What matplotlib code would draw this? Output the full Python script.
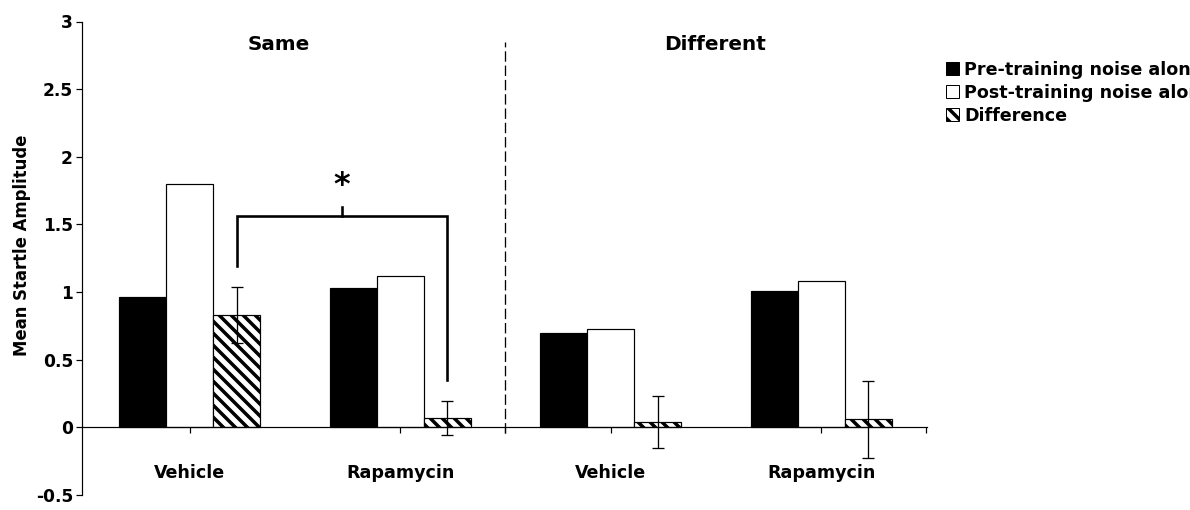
import numpy as np
import matplotlib.pyplot as plt
from matplotlib.patches import Patch

# Startle amplitude, pre vs post training, by context and drug
groups = ["Vehicle", "Rapamycin", "Vehicle", "Rapamycin"]
panels = ["Same", "Different"]
pre = [0.96, 1.03, 0.70, 1.01]
post = [1.80, 1.12, 0.73, 1.08]
diff = [0.83, 0.07, 0.04, 0.06]
diff_err = [0.21, 0.125, 0.19, 0.285]
labels = ["Pre-training noise alone", "Post-training noise alone", "Difference"]

plt.rcParams["font.family"] = "DejaVu Sans"
plt.rcParams["font.weight"] = "bold"
plt.rcParams["hatch.linewidth"] = 3.5

DPI = 72
fig = plt.figure(figsize=(1190 / DPI, 510 / DPI), dpi=DPI)
ax = fig.add_axes([82 / 1190, 15 / 510, 845 / 1190, 473.5 / 510])

x = np.arange(len(groups))
w = 0.223
ax.bar(x - w, pre, w, color="black", edgecolor="black", linewidth=1.2)
ax.bar(x, post, w, color="white", edgecolor="black", linewidth=1.2)
ax.bar(x + w, diff, w, color="white", edgecolor="black", linewidth=1.2,
       hatch="\\\\")
ax.errorbar(x + w, diff, yerr=diff_err, fmt="none", ecolor="black",
            elinewidth=1.3, capsize=6, capthick=1.3)

# significance bracket between the two "Same" difference bars
xl, xr = x[0] + w, x[1] + w
xm = (xl + xr) / 2
ax.plot([xl, xl, xr, xr], [1.19, 1.56, 1.56, 0.35], color="black", lw=2.6,
        solid_joinstyle="miter")
ax.plot([xm, xm], [1.56, 1.63], color="black", lw=2.6)
ax.text(xm, 1.79, "*", ha="center", va="center", fontsize=32, fontweight="bold")

# divider between contexts
ax.plot([1.5, 1.5], [-0.04, 2.85], color="black", lw=1.3, dashes=(8, 3))

for i, p in enumerate(panels):
    ax.text(0.425 + 2.07 * i, 2.83, p, ha="center", va="center", fontsize=20,
            fontweight="bold")
for xi, g in zip(x, groups):
    ax.text(xi, -0.34, g, ha="center", va="center", fontsize=17.5,
            fontweight="bold")

ax.set_xlim(-0.511, 3.503)
ax.set_ylim(-0.5, 3)
ax.set_yticks(np.arange(-0.5, 3.01, 0.5))
ax.set_yticklabels(["-0.5", "0", "0.5", "1", "1.5", "2", "2.5", "3"])
ax.set_xticks([0, 1, 1.5, 2, 3, 3.5])
ax.set_xticklabels([])
ax.tick_params(axis="y", direction="out", length=6, width=1.2, pad=3,
               labelsize=17)
ax.tick_params(axis="x", direction="out", length=6, width=1.2)
for s in ("top", "right"):
    ax.spines[s].set_visible(False)
ax.spines["bottom"].set_position(("data", 0))
ax.spines["bottom"].set_linewidth(1.2)
ax.spines["left"].set_linewidth(1.2)

fig.text(22 / 1190, 1 - 245 / 510, "Mean Startle Amplitude", rotation=90,
         ha="center", va="center", fontsize=16.5, fontweight="bold")

handles = [Patch(facecolor="black", edgecolor="black"),
           Patch(facecolor="white", edgecolor="black"),
           Patch(facecolor="white", edgecolor="black", hatch="\\\\")]
fig.legend(handles, labels, loc="upper left",
           bbox_to_anchor=(946 / 1190, 1 - 61 / 510), frameon=False,
           fontsize=17.5, handlelength=0.75, handleheight=0.75,
           handletextpad=0.3, labelspacing=0.28, borderpad=0,
           borderaxespad=0)

fig.savefig("out.png", dpi=DPI)
